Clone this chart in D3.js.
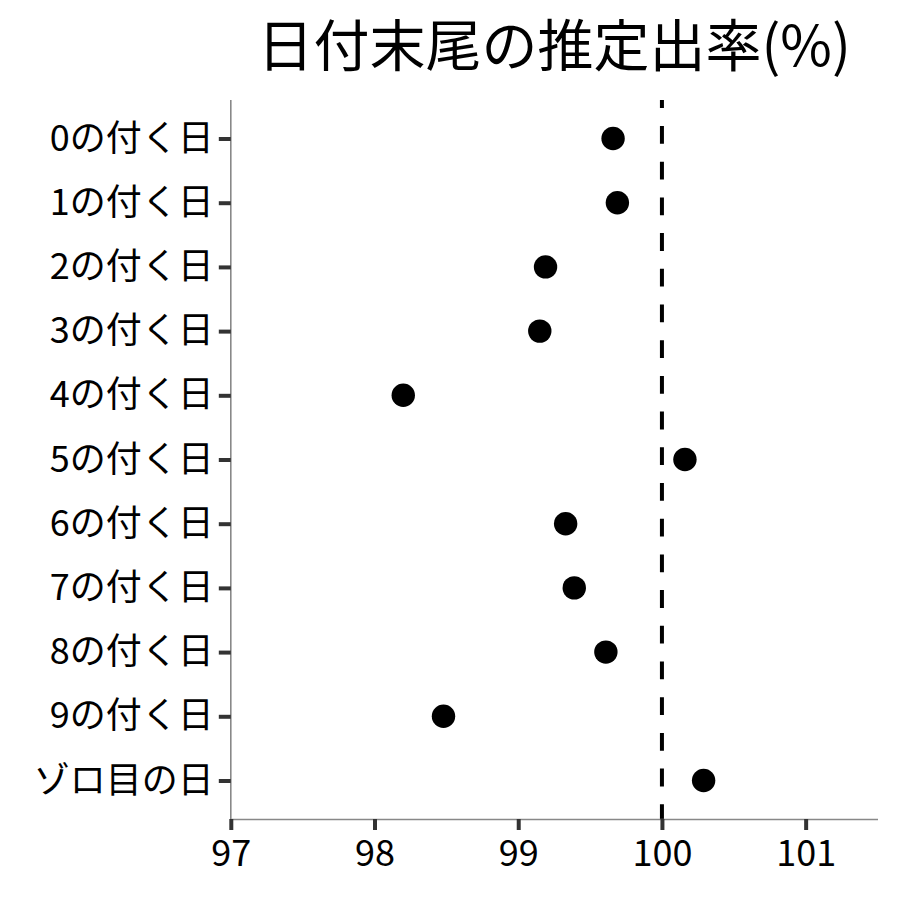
<!DOCTYPE html>
<html>
<head>
<meta charset="utf-8">
<script src="https://cdn.jsdelivr.net/npm/d3@7"></script>
<style>
  html, body { margin: 0; padding: 0; background: #fff; }
  svg { display: block; }
  text { font-family: "Noto Sans CJK JP", "Noto Sans", sans-serif; }
</style>
</head>
<body>
<svg id="chart" width="900" height="900"></svg>
<script>
const categories = ["0の付く日", "1の付く日", "2の付く日", "3の付く日", "4の付く日",
  "5の付く日", "6の付く日", "7の付く日", "8の付く日", "9の付く日", "ゾロ目の日"];
const values = [99.66, 99.69, 99.19, 99.15, 98.20, 100.16, 99.33, 99.39, 99.61, 98.48, 100.29];
const xTickValues = [97, 98, 99, 100, 101];
const xDomain = [97, 101.5];
const referenceValue = 100;
const titleText = "日付末尾の推定出率(%)";

(function () {
const svg = d3.select("#chart");
const pLeft = 230.8, pRight = 877.5, pTop = 100, pBottom = 819;

const x = d3.scaleLinear().domain(xDomain).range([pLeft, pRight]);
const y = d3.scalePoint().domain(categories).range([pTop, pBottom]).padding(0.6);

// Title
svg.append("text")
  .attr("x", (pLeft + pRight) / 2)
  .attr("y", 66)
  .attr("text-anchor", "middle")
  .attr("font-size", 56)
  .attr("fill", "#000")
  .text(titleText);

// Reference dashed line
svg.append("line")
  .attr("x1", x(referenceValue)).attr("x2", x(referenceValue))
  .attr("y1", pTop).attr("y2", pBottom)
  .attr("stroke", "#000")
  .attr("stroke-width", 4)
  .attr("stroke-dasharray", "17.8,17.9")
  .attr("stroke-dashoffset", 9.7);

// Y axis
const yAxis = svg.append("g")
  .attr("transform", `translate(${pLeft},0)`)
  .call(d3.axisLeft(y).tickSize(12).tickSizeOuter(0).tickPadding(5));
yAxis.select(".domain").attr("stroke", "#888").attr("stroke-width", 1.6)
  .attr("d", `M0,${pTop}V${pBottom}`);
yAxis.selectAll(".tick line").attr("stroke", "#333").attr("stroke-width", 4);
yAxis.selectAll(".tick text")
  .attr("font-size", 36)
  .attr("fill", "#000")
  .attr("font-family", '"Noto Sans CJK JP", sans-serif');

// X axis
const xAxis = svg.append("g")
  .attr("transform", `translate(0,${pBottom})`)
  .call(d3.axisBottom(x).tickValues(xTickValues).tickSize(11).tickSizeOuter(0).tickPadding(10).tickFormat(d3.format("d")));
xAxis.select(".domain").attr("stroke", "#888").attr("stroke-width", 1.6);
xAxis.selectAll(".tick line").attr("stroke", "#333").attr("stroke-width", 4);
xAxis.selectAll(".tick text")
  .attr("font-size", 36)
  .attr("fill", "#000")
  .attr("font-family", '"Noto Sans CJK JP", sans-serif');

// Points
svg.append("g")
  .selectAll("circle")
  .data(categories.map((c, i) => ({ c, v: values[i] })))
  .join("circle")
  .attr("cx", d => x(d.v))
  .attr("cy", d => y(d.c))
  .attr("r", 11.7)
  .attr("fill", "#000");
})();
</script>
</body>
</html>
